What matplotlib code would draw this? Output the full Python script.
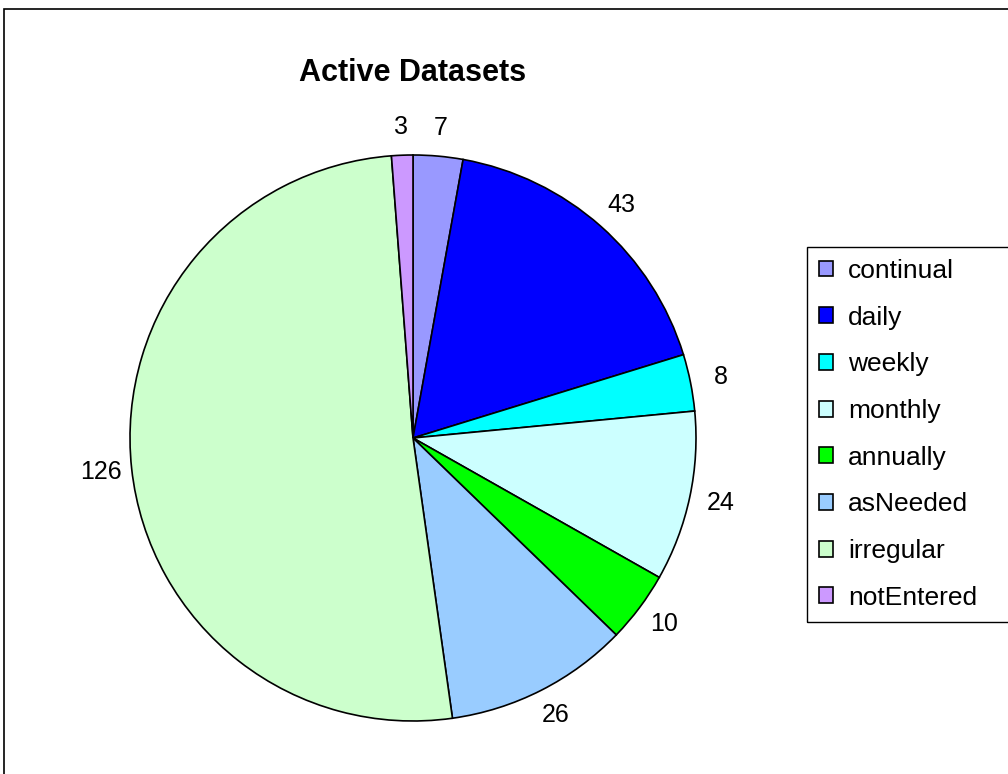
import numpy as np
import matplotlib
matplotlib.use('Agg')
import matplotlib.pyplot as plt
from matplotlib.patches import Rectangle

plt.rcParams['font.family'] = ['Liberation Sans', 'DejaVu Sans']

# data
categories = ['continual', 'daily', 'weekly', 'monthly', 'annually', 'asNeeded', 'irregular', 'notEntered']
counts = [7, 43, 8, 24, 10, 26, 126, 3]
colors = ['#9999FF', '#0000FF', '#00FFFF', '#CCFFFF', '#00FF00', '#99CCFF', '#CCFFCC', '#CC99FF']

W, H = 1008, 774
fig = plt.figure(figsize=(W/100, H/100), dpi=100)

# outer chart frame (runs off the right and bottom edge)
fig.patches.append(Rectangle((4/W, -0.1), 1.2, 1.1 - 9/H, transform=fig.transFigure,
                             fill=False, edgecolor='black', lw=1.2))

# pie centred at (413, 438) px with radius 283 px
cx, cy, r = 413, 438, 283
ax = fig.add_axes([(cx - r)/W, (H - cy - r)/H, 2*r/W, 2*r/H])
wedges, _ = ax.pie(counts, colors=colors, startangle=90, counterclock=False,
                   radius=1, wedgeprops=dict(edgecolor='black', linewidth=1.2))
ax.set_xlim(-1, 1)
ax.set_ylim(-1, 1)
ax.set_aspect('equal')
ax.axis('off')

# value labels just outside the pie
for w, v in zip(wedges, counts):
    mid = np.deg2rad((w.theta1 + w.theta2) / 2)
    ax.text(1.11*np.cos(mid), 1.10*np.sin(mid), str(v), ha='center', va='center',
            fontsize=18, clip_on=False)

fig.text(cx/W, 1 - 73/H, 'Active Datasets', ha='center', va='center',
         fontsize=22, fontweight='bold')

handles = [plt.Rectangle((0, 0), 1, 1, facecolor=c, edgecolor='black', lw=1.2) for c in colors]
leg = fig.legend(handles, categories, loc='upper left', bbox_to_anchor=(807/W, 1 - 247/H),
                 fontsize=19, frameon=False,
                 handlelength=0.55, handleheight=0.55, handletextpad=0.55,
                 labelspacing=0.86, borderpad=0.45, borderaxespad=0)

# legend box is cut off by the right edge in the original
fig.canvas.draw()
bb = leg.get_window_extent()
fig.patches.append(Rectangle((bb.x0/W, bb.y0/H), 1.2, (bb.y1 - bb.y0)/H,
                             transform=fig.transFigure, fill=False,
                             edgecolor='black', lw=1.0))

plt.savefig('out.png', dpi=100)
